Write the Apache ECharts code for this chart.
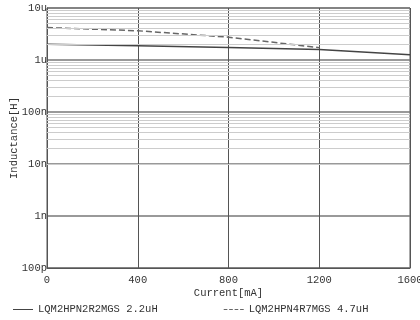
<!DOCTYPE html>
<html><head><meta charset="utf-8">
<script src="https://cdn.jsdelivr.net/npm/echarts@6/dist/echarts.min.js"></script>
<style>html,body{margin:0;padding:0;background:#fff}#c{width:420px;height:320px}</style>
</head><body><div id="c"></div>
<script>
// Data (inductance in uH)
var currentTicks = [0, 400, 800, 1200, 1600];
var yTickLabels = ['100p', '1n', '10n', '100n', '1u', '10u'];
var current22 = [0, 400, 800, 1200, 1600];
var ind22 = [2.0, 1.87, 1.73, 1.6, 1.26];
var current47 = [0, 400, 800, 1200];
var ind47 = [4.2, 3.65, 2.75, 1.73];
var name22 = 'LQM2HPN2R2MGS 2.2uH';
var name47 = 'LQM2HPN4R7MGS 4.7uH';

var FONT = 'Liberation Mono';
var minor = [];
[0.0001, 0.001, 0.01, 0.1, 1].forEach(function (d) {
  for (var k = 2; k <= 9; k++) minor.push({ yAxis: k * d });
});
function pairs(xs, ys) { return xs.map(function (x, i) { return [x, ys[i]]; }); }

var chart = echarts.init(document.getElementById('c'));
chart.setOption({
  animation: false,
  textStyle: { fontFamily: FONT },
  grid: { left: 47, right: 10, top: 8, bottom: 52, containLabel: false, outerBoundsMode: 'none',
    show: true, borderColor: '#555', borderWidth: 1 },
  legend: {
    left: 8, top: 299, itemWidth: 20, itemHeight: 4, itemGap: 66,
    textStyle: { fontFamily: FONT, fontSize: 10.5, color: '#333' }, selectedMode: false,
    data: [
      { name: name22, icon: 'path://M0,0H20V1H0Z' },
      { name: name47, icon: 'path://M0,0H4V1H0ZM6,0H10V1H6ZM12,0H16V1H12ZM18,0H22V1H18Z' }
    ]
  },
  xAxis: {
    type: 'value', min: 0, max: 1600, interval: 400,
    name: 'Current[mA]', nameLocation: 'middle', nameGap: 20, nameMoveOverlap: false,
    nameTextStyle: { fontFamily: FONT, fontSize: 10.5, color: '#333' },
    axisLine: { lineStyle: { color: '#555' } },
    axisTick: { show: false },
    axisLabel: { color: '#333', fontSize: 10.5, fontFamily: FONT, margin: 7,
      formatter: function (v) { return String(v); } },
    splitLine: { show: true, lineStyle: { color: '#555', width: 1 } }
  },
  yAxis: {
    type: 'log', logBase: 10, min: 0.0001, max: 10,
    name: 'Inductance[H]', nameLocation: 'middle', nameGap: 27, nameMoveOverlap: false,
    nameTextStyle: { fontFamily: FONT, fontSize: 10.5, color: '#333' },
    axisLine: { lineStyle: { color: '#555' } },
    axisTick: { show: false },
    axisLabel: { color: '#333', fontSize: 10.5, fontFamily: FONT, margin: 0,
      formatter: function (v) { var i = Math.round(Math.log10(v)) + 4; return yTickLabels[i] || ''; } },
    splitLine: { show: true, lineStyle: { color: '#777', width: 1.5 } }
  },
  series: [
    { name: name22, type: 'line', showSymbol: false, symbol: 'none', data: pairs(current22, ind22),
      lineStyle: { color: '#444', width: 1.5 }, itemStyle: { color: '#444' },
      markLine: { silent: true, symbol: 'none', label: { show: false },
        lineStyle: { color: '#ccc', type: 'solid', width: 1 }, data: minor }, z: 3 },
    { name: name47, type: 'line', showSymbol: false, symbol: 'none', data: pairs(current47, ind47),
      lineStyle: { color: '#666', width: 1.5, type: [6, 3] }, itemStyle: { color: '#666' }, z: 4 }
  ]
});
</script></body></html>
